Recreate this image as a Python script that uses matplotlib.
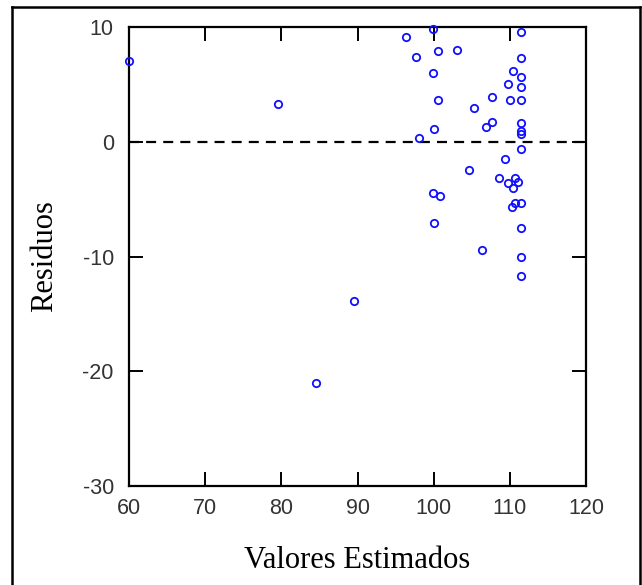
import numpy as np
import matplotlib
matplotlib.use("Agg")
import matplotlib.pyplot as plt
from matplotlib.lines import Line2D

plt.rcParams['axes.unicode_minus'] = False

# Valores estimados (x) y residuos (y)
estimados = [60.0, 79.6, 84.5, 89.5,
             96.4, 97.7, 98.1, 99.9, 99.9, 100.0, 100.6, 100.6, 103.0,
             99.9, 100.8, 100.0,
             104.6, 105.3, 106.3, 106.9, 107.6, 107.6,
             108.5, 109.4, 109.7, 109.8, 110.0, 110.3, 110.4, 110.4, 110.6, 110.7,
             111.1, 111.4, 111.4, 111.4, 111.4, 111.4, 111.4, 111.4, 111.4,
             111.4, 111.4, 111.4, 111.4, 111.4]
residuos = [7.0, 3.3, -21.0, -13.9,
            9.1, 7.4, 0.3, 9.8, 6.0, 1.1, 7.9, 3.6, 8.0,
            -4.5, -4.7, -7.1,
            -2.5, 2.9, -9.4, 1.3, 1.7, 3.9,
            -3.2, -1.5, -3.6, 5.0, 3.6, -5.7, 6.2, -4.0, -5.3, -3.2,
            -3.5, 9.6, 7.3, 5.6, 4.8, 3.6, 1.6, 0.9, -0.6,
            -5.3, -7.5, -10.0, -11.7, 0.7]

xticks = [60, 70, 80, 90, 100, 110, 120]
yticks = [10, 0, -10, -20, -30]

fig = plt.figure(figsize=(6.42, 5.85), dpi=100)
ax = fig.add_axes([0.201, 0.169, 0.712, 0.785])

ax.plot(estimados, residuos, linestyle='none', marker='o', markersize=5.3,
        markerfacecolor='none', markeredgecolor='#1010ff', markeredgewidth=1.3,
        clip_on=False, zorder=3)
ax.axhline(0, color='black', linestyle=(0, (4.5, 3.2)), linewidth=1.6, zorder=2)

ax.set_xlim(60, 120)
ax.set_ylim(-30, 10)
ax.set_xticks(xticks)
ax.set_yticks(yticks)
ax.tick_params(direction='in', length=10, width=1.4, top=True, right=True,
               labelsize=15.5, labelcolor='#333333')
ax.tick_params(axis='x', pad=8.5)
ax.tick_params(axis='y', pad=11)
for lab in ax.get_xticklabels() + ax.get_yticklabels():
    lab.set_family('Liberation Sans')
for s in ax.spines.values():
    s.set_linewidth(1.6)

ax.set_xlabel('Valores Estimados', family='Liberation Serif', fontsize=22, va='baseline')
ax.xaxis.set_label_coords(0.5, -0.1786)
ax.set_ylabel('Residuos', family='Liberation Serif', fontsize=22, va='center')
ax.yaxis.set_label_coords(-0.184, 0.5)

# marco exterior de la figura
fig.add_artist(Line2D([0.019, 0.019], [0, 0.988], color='black', lw=1.8, transform=fig.transFigure))
fig.add_artist(Line2D([0.019, 0.997], [0.988, 0.988], color='black', lw=1.8, transform=fig.transFigure))
fig.add_artist(Line2D([0.997, 0.997], [0, 0.988], color='black', lw=1.8, transform=fig.transFigure))

fig.savefig('out.png', dpi=100)
